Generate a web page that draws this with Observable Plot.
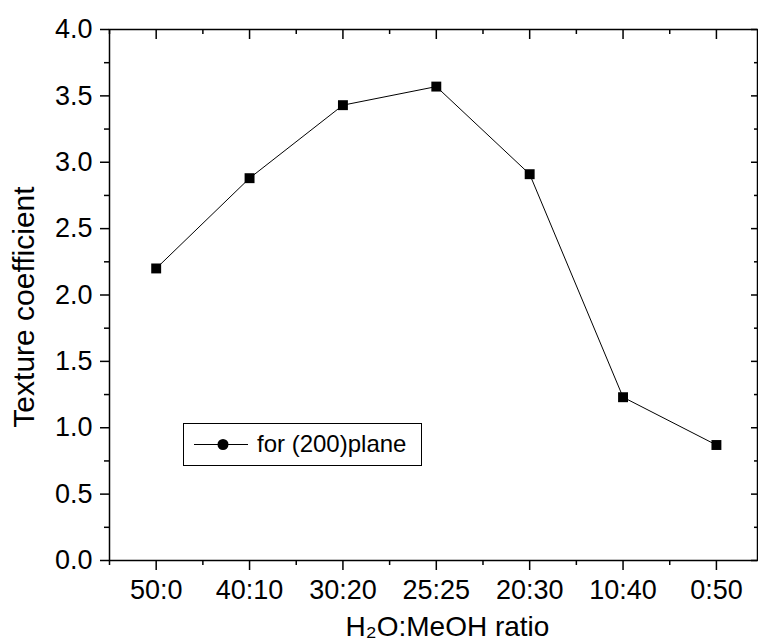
<!DOCTYPE html>
<html>
<head>
<meta charset="utf-8">
<script src="https://cdn.jsdelivr.net/npm/d3@7"></script>
<script src="https://cdn.jsdelivr.net/npm/@observablehq/plot@0.6"></script>
<style>
  body { margin: 0; background: #fff; }
  #wrap { position: relative; width: 758px; height: 644px; overflow: hidden; }
  #legend {
    position: absolute; left: 183px; top: 423px; width: 237px; height: 41px;
    border: 1.5px solid #000; background: #fff;
    font-family: "Liberation Sans", Arial, sans-serif; font-size: 24px; color: #000;
  }
  #legend svg { position: absolute; left: 0; top: 0; }
  #legend span { position: absolute; left: 73px; top: 6px; white-space: nowrap; }
</style>
</head>
<body>
<div id="wrap"></div>
<script>
const ratios = ["50:0", "40:10", "30:20", "25:25", "20:30", "10:40", "0:50"];
const textureCoeff = [2.20, 2.88, 3.43, 3.57, 2.91, 1.23, 0.87];
const yTicks = [0, 0.5, 1.0, 1.5, 2.0, 2.5, 3.0, 3.5, 4.0];
const yMinorTicks = [0.25, 0.75, 1.25, 1.75, 2.25, 2.75, 3.25, 3.75];
const xTicks = [0, 1, 2, 3, 4, 5, 6];
const xMinorTicks = [-0.5, 0.5, 1.5, 2.5, 3.5, 4.5, 5.5];
const seriesName = "for (200)plane";
const xTitle = "H₂O:MeOH ratio";
const yTitle = "Texture coefficient";

const data = ratios.map((r, i) => ({ i, ratio: r, value: textureCoeff[i] }));
const none = () => "";

const W = 758, H = 644, ML = 109, MR = 1, MT = 29, MB = 84;
const frameW = W - ML - MR, frameH = H - MT - MB;

const chart = Plot.plot({
  width: W,
  height: H,
  marginLeft: ML,
  marginRight: MR,
  marginTop: MT,
  marginBottom: MB,
  x: { domain: [-0.5, 6.44] },
  y: { domain: [0, 4] },
  style: { fontFamily: "Liberation Sans, Arial, sans-serif", fontSize: "27px", color: "#000", background: "#fff", overflow: "visible" },
  marks: [
    Plot.frame({ stroke: "#000", strokeWidth: 1.5 }),
    Plot.axisX({ ticks: xTicks, tickFormat: (i) => ratios[i], tickSize: 10, tickPadding: 9, strokeWidth: 1.5, label: null }),
    Plot.axisX({ ticks: xMinorTicks, tickFormat: none, tickSize: 5, strokeWidth: 1.5, label: null }),
    Plot.tickX(xTicks, { x: (d) => d, insetBottom: frameH - 10, stroke: "#000", strokeWidth: 1.5 }),
    Plot.tickX(xMinorTicks, { x: (d) => d, insetBottom: frameH - 5, stroke: "#000", strokeWidth: 1.5 }),
    Plot.axisY({ ticks: yTicks, tickFormat: d3.format(".1f"), tickSize: 9, tickPadding: 8, strokeWidth: 1.5, label: null }),
    Plot.axisY({ ticks: yMinorTicks, tickFormat: none, tickSize: 5, strokeWidth: 1.5, label: null }),
    Plot.tickY(yTicks, { y: (d) => d, insetLeft: frameW - 6, stroke: "#000", strokeWidth: 1.5 }),
    Plot.tickY(yMinorTicks, { y: (d) => d, insetLeft: frameW - 3, stroke: "#000", strokeWidth: 1.5 }),
    Plot.line(data, { x: "i", y: "value", stroke: "#000", strokeWidth: 1 }),
    Plot.dot(data, { x: "i", y: "value", symbol: "square", r: 5.6, fill: "#000", stroke: null }),
    Plot.text([yTitle], { text: (d) => d, frameAnchor: "left", textAnchor: "middle", lineAnchor: "middle", rotate: -90, dx: -85, dy: 12, fontSize: 30 }),
    Plot.text([xTitle], { text: (d) => d, frameAnchor: "bottom", textAnchor: "middle", lineAnchor: "middle", dx: 14, dy: 67, fontSize: 28 })
  ]
});

const wrap = document.getElementById("wrap");
wrap.appendChild(chart);

const legend = document.createElement("div");
legend.id = "legend";
legend.innerHTML =
  '<svg width="72" height="41"><line x1="10" x2="64" y1="20.5" y2="20.5" stroke="#000" stroke-width="1"/>' +
  '<circle cx="39" cy="20.5" r="5.5" fill="#000"/></svg>';
const label = document.createElement("span");
label.textContent = seriesName;
legend.appendChild(label);
wrap.appendChild(legend);
</script>
</body>
</html>
